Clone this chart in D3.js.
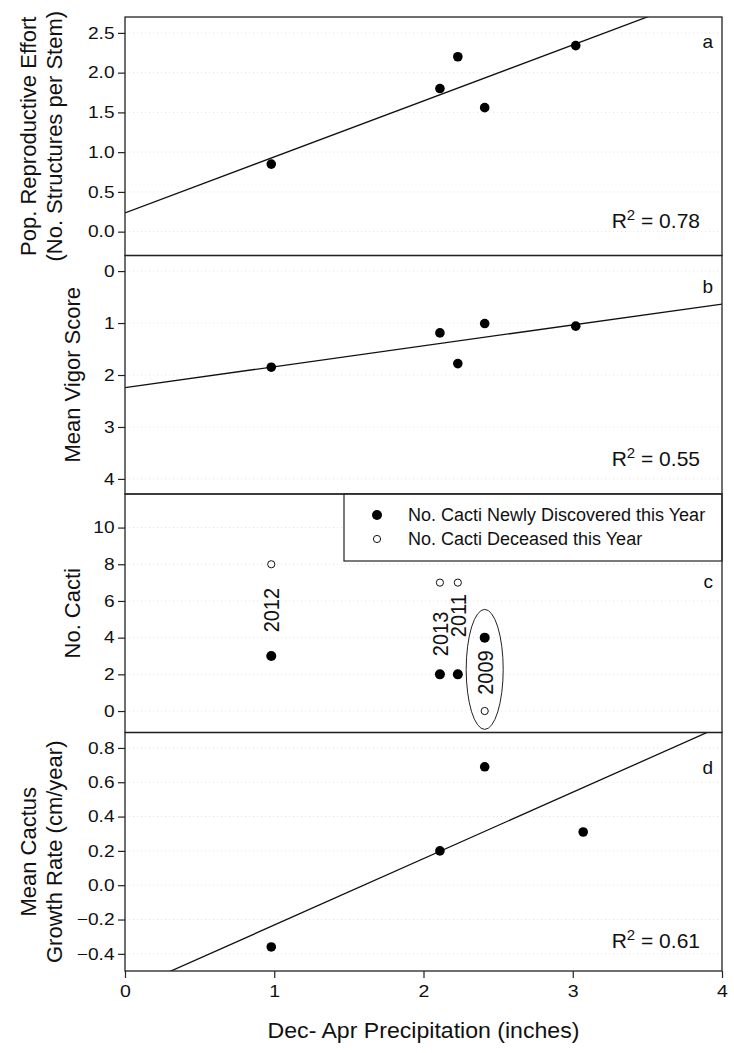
<!DOCTYPE html>
<meta charset="utf-8">
<style>
    body { margin: 0; background: #fff; }
    svg { font-family: Arial, "Liberation Sans", sans-serif; }
    .frame { fill: none; stroke: #222; stroke-width: 1.3; }
    .axis path, .axis line { stroke: #222; stroke-width: 1.2; }
    .axis text { font-size: 16.5px; fill: #111; }
    .grid line { stroke: #e4e4e4; stroke-width: 1; stroke-dasharray: 1,3; }
    .fit { fill: none; stroke: #111; stroke-width: 1.3; }
    .title { font-size: 22px; fill: #111; }
    .note { font-size: 21px; fill: #111; }
    .letter { font-size: 19px; fill: #111; }
    .year { font-size: 20px; fill: #111; }
    .legend text { font-size: 18px; fill: #111; }
</style>

<body>
    <script src="https://d3js.org/d3.v7.min.js"></script>
    <script>
        // ---- data ----
        var precipA = [0.98, 2.11, 2.23, 2.41, 3.02];
        var effortA = [0.85, 1.80, 2.20, 1.56, 2.34];

        var precipB = [0.98, 2.11, 2.23, 2.41, 3.02];
        var vigorB = [1.85, 1.19, 1.78, 1.01, 1.06];

        var precipC = [0.98, 2.11, 2.23, 2.41];
        var yearsC = ["2012", "2013", "2011", "2009"];
        var discoveredC = [3, 2, 2, 4];
        var deceasedC = [8, 7, 7, 0];

        var precipD = [0.98, 2.11, 2.41, 3.07];
        var growthD = [-0.36, 0.20, 0.69, 0.31];

        var xTicks = [0, 1, 2, 3, 4];
        var ticksA = [0, 0.5, 1, 1.5, 2, 2.5];
        var ticksB = [0, 1, 2, 3, 4];
        var ticksC = [0, 2, 4, 6, 8, 10];
        var ticksD = [-0.4, -0.2, 0, 0.2, 0.4, 0.6, 0.8];

        var r2Text = ["0.78", "0.55", null, "0.61"];
        var panelLetters = ["a", "b", "c", "d"];
        var legendLabels = ["No. Cacti Newly Discovered this Year", "No. Cacti Deceased this Year"];

        // ---- layout ----
        var width = 734, height = 1053;
        var left = 125, right = 722;
        var top0 = 17, panelH = 238.5;
        var bottom = top0 + 4 * panelH;

        var svg = d3.select("body").append("svg")
            .attr("width", width)
            .attr("height", height);

        var x = d3.scaleLinear().domain([0, 4]).range([left, right]);

        // least squares fit
        function fit(xs, ys) {
            var mx = d3.mean(xs), my = d3.mean(ys);
            var sxy = d3.sum(xs, function (v, i) { return (v - mx) * (ys[i] - my); });
            var sxx = d3.sum(xs, function (v) { return (v - mx) * (v - mx); });
            var m = sxy / sxx;
            return { m: m, b: my - m * mx };
        }

        var panels = [
            { domain: [-0.3, 2.7], ticks: ticksA, fmt: d3.format(".1f"), xs: precipA, ys: effortA,
              title: ["Pop. Reproductive Effort", "(No. Structures per Stem)"], letterDy: 31, r2Dy: 28 },
            { domain: [4.29, -0.3], ticks: ticksB, fmt: d3.format("d"), xs: precipB, ys: vigorB,
              title: ["Mean Vigor Score"], letterDy: 37, r2Dy: 28 },
            { domain: [-1.17, 11.83], ticks: ticksC, fmt: d3.format("d"),
              title: ["No. Cacti"], letterDy: 94 },
            { domain: [-0.5, 0.89], ticks: ticksD, fmt: d3.format(".1f"), xs: precipD, ys: growthD,
              title: ["Mean Cactus", "Growth Rate (cm/year)"], letterDy: 41, r2Dy: 23 }
        ];

        panels.forEach(function (p, i) {
            var pt = top0 + i * panelH, pb = pt + panelH;
            var y = d3.scaleLinear().domain(p.domain).range([pb, pt]);
            var g = svg.append("g");

            g.append("clipPath").attr("id", "clip" + i)
                .append("rect").attr("x", left).attr("y", pt)
                .attr("width", right - left).attr("height", panelH);

            // faint dotted grid
            g.append("g").attr("class", "grid")
                .selectAll("line").data(p.ticks).enter().append("line")
                .attr("x1", left).attr("x2", right)
                .attr("y1", function (d) { return y(d); })
                .attr("y2", function (d) { return y(d); });

            var ax = g.append("g").attr("class", "axis")
                .attr("transform", "translate(" + left + ",0)")
                .call(d3.axisLeft(y).tickValues(p.ticks).tickFormat(p.fmt).tickSize(7).tickPadding(2).tickSizeOuter(0));
            ax.select(".domain").remove();
            ax.selectAll("text").attr("transform", "scale(1.16,1)");

            var plot = g.append("g").attr("clip-path", "url(#clip" + i + ")");

            if (p.xs) {
                var f = fit(p.xs, p.ys);
                plot.append("line").attr("class", "fit")
                    .attr("x1", x(0)).attr("y1", y(f.b))
                    .attr("x2", x(4)).attr("y2", y(f.b + 4 * f.m));

                plot.selectAll("circle.pt").data(p.xs).enter().append("circle")
                    .attr("class", "pt")
                    .attr("cx", function (d) { return x(d); })
                    .attr("cy", function (d, j) { return y(p.ys[j]); })
                    .attr("r", 4.8).attr("fill", "#000");
            }

            if (i === 2) {
                // year labels, set between the two points of each year
                var labelShift = [0, -0.3, 0.7, 0.1];
                plot.selectAll("text.year").data(yearsC).enter().append("text")
                    .attr("class", "year")
                    .attr("text-anchor", "middle")
                    .attr("dominant-baseline", "central")
                    .attr("transform", function (d, j) {
                        var mid = (discoveredC[j] + deceasedC[j]) / 2 + labelShift[j];
                        return "translate(" + x(precipC[j]) + "," + y(mid) + ") scale(1.1,1) rotate(-90)";
                    })
                    .text(function (d) { return d; });

                // ellipse around 2009
                var k = yearsC.indexOf("2009");
                var ecx = precipC[k], ecy = (discoveredC[k] + deceasedC[k]) / 2 + 0.27;
                plot.append("ellipse")
                    .attr("cx", x(ecx)).attr("cy", y(ecy))
                    .attr("rx", x(ecx + 0.124) - x(ecx))
                    .attr("ry", y(ecy - 3.27) - y(ecy))
                    .attr("fill", "none").attr("stroke", "#222").attr("stroke-width", 1);

                plot.selectAll("circle.dis").data(precipC).enter().append("circle")
                    .attr("class", "dis")
                    .attr("cx", function (d) { return x(d); })
                    .attr("cy", function (d, j) { return y(discoveredC[j]); })
                    .attr("r", 5).attr("fill", "#000");

                plot.selectAll("circle.dec").data(precipC).enter().append("circle")
                    .attr("class", "dec")
                    .attr("cx", function (d) { return x(d); })
                    .attr("cy", function (d, j) { return y(deceasedC[j]); })
                    .attr("r", 3.6).attr("fill", "#fff").attr("stroke", "#111").attr("stroke-width", 1);

                // legend box
                var lg = g.append("g").attr("class", "legend");
                lg.append("rect").attr("x", 344).attr("y", pt)
                    .attr("width", right - 344).attr("height", 67)
                    .attr("fill", "#fff").attr("stroke", "#222").attr("stroke-width", 1.2);
                lg.append("circle").attr("cx", 377).attr("cy", pt + 21).attr("r", 5).attr("fill", "#000");
                lg.append("circle").attr("cx", 377).attr("cy", pt + 45).attr("r", 3.6)
                    .attr("fill", "#fff").attr("stroke", "#111");
                lg.selectAll("text").data(legendLabels).enter().append("text")
                    .attr("x", 408).attr("y", function (d, j) { return pt + 21 + j * 24; })
                    .attr("dominant-baseline", "central")
                    .text(function (d) { return d; });
            }

            // frame
            g.append("rect").attr("class", "frame")
                .attr("x", left).attr("y", pt).attr("width", right - left).attr("height", panelH);

            // panel letter
            g.append("text").attr("class", "letter")
                .attr("x", right - 9).attr("y", pt + p.letterDy)
                .attr("text-anchor", "end").text(panelLetters[i]);

            // R squared
            if (r2Text[i]) {
                var t = g.append("text").attr("class", "note")
                    .attr("x", right - 22).attr("y", pb - p.r2Dy)
                    .attr("text-anchor", "end");
                t.append("tspan").text("R");
                t.append("tspan").attr("dy", -8).attr("font-size", "15px").text("2");
                t.append("tspan").attr("dy", 8).text(" = " + r2Text[i]);
            }

            // y title
            var cy = (pt + pb) / 2;
            var n = p.title.length;
            p.title.forEach(function (line, j) {
                var bx = n === 1 ? 80 : 36 + j * 26;
                g.append("text").attr("class", "title")
                    .attr("text-anchor", "middle")
                    .attr("transform", "translate(" + bx + "," + cy + ") rotate(-90)")
                    .text(line);
            });
        });

        // bottom x axis
        var xa = svg.append("g").attr("class", "axis")
            .attr("transform", "translate(0," + bottom + ")")
            .call(d3.axisBottom(x).tickValues(xTicks).tickFormat(d3.format("d")).tickSize(7).tickPadding(7).tickSizeOuter(0));
        xa.select(".domain").remove();
        xa.selectAll("text").style("font-size", "17px").attr("transform", "scale(1.15,1)");

        svg.append("text").attr("class", "title")
            .attr("x", (left + right) / 2).attr("y", 1038)
            .attr("text-anchor", "middle")
            .attr("transform", "translate(" + (-(left + right) / 2 * 0.05) + ",0) scale(1.05,1)")
            .text("Dec- Apr Precipitation (inches)");
    </script>
</body>
